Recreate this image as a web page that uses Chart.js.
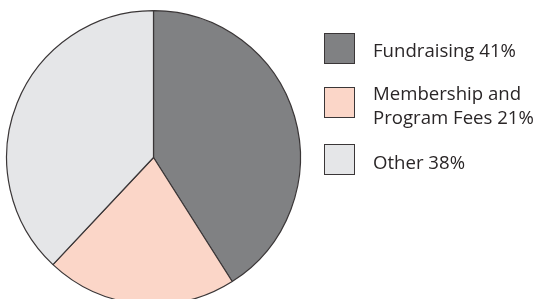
<!DOCTYPE html>
<html>
<head>
<meta charset="utf-8">
<script src="https://cdn.jsdelivr.net/npm/chart.js@4.4.1/dist/chart.umd.min.js"></script>
<style>
  html, body { margin: 0; padding: 0; background: #ffffff; overflow: hidden; width: 538px; height: 299px; }
  #wrap { position: absolute; left: 0; top: 0; width: 538px; height: 305px; }
</style>
</head>
<body>
<div id="wrap"><canvas id="c"></canvas></div>
<script>
// Data
const categories = [['Fundraising'], ['Membership and', 'Program Fees'], ['Other']];
const values = [41, 21, 38];
const colors = ['#808183', '#fbd6c8', '#e5e6e8'];

const labels = categories.map(c => c.join(' '));

const legendPlugin = {
  id: 'sideLegend',
  afterDraw(chart) {
    const ctx = chart.ctx;
    const ds = chart.data.datasets[0];
    const boxX = 324.5, boxSize = 30;
    const textX = 373;
    const boxTops = [33.5, 87.5, 144.5];
    const baselines = [[57], [100, 124], [169]];
    ctx.save();
    ctx.font = '18.6px "Open Sans", "Noto Sans", sans-serif';
    ctx.textBaseline = 'alphabetic';
    ctx.textAlign = 'left';
    categories.forEach((lines, i) => {
      ctx.fillStyle = ds.backgroundColor[i];
      ctx.fillRect(boxX, boxTops[i], boxSize, boxSize);
      ctx.strokeStyle = '#3a3637';
      ctx.lineWidth = 1;
      ctx.strokeRect(boxX, boxTops[i], boxSize, boxSize);
      ctx.fillStyle = '#2a2627';
      lines.forEach((ln, j) => {
        const txt = j === lines.length - 1 ? ln + ' ' + ds.data[i] + '%' : ln;
        ctx.fillText(txt, textX, baselines[i][j]);
      });
    });
    ctx.restore();
  }
};

new Chart(document.getElementById('c'), {
  type: 'pie',
  data: {
    labels: labels,
    datasets: [{
      data: values,
      backgroundColor: colors,
      borderColor: '#3a3637',
      borderWidth: 1.2,
      hoverOffset: 0
    }]
  },
  options: {
    responsive: true,
    maintainAspectRatio: false,
    animation: false,
    events: [],
    layout: { padding: { left: 6, right: 237, top: 10, bottom: 0 } },
    plugins: {
      legend: { display: false },
      tooltip: { enabled: false }
    }
  },
  plugins: [legendPlugin]
});
</script>
</body>
</html>
